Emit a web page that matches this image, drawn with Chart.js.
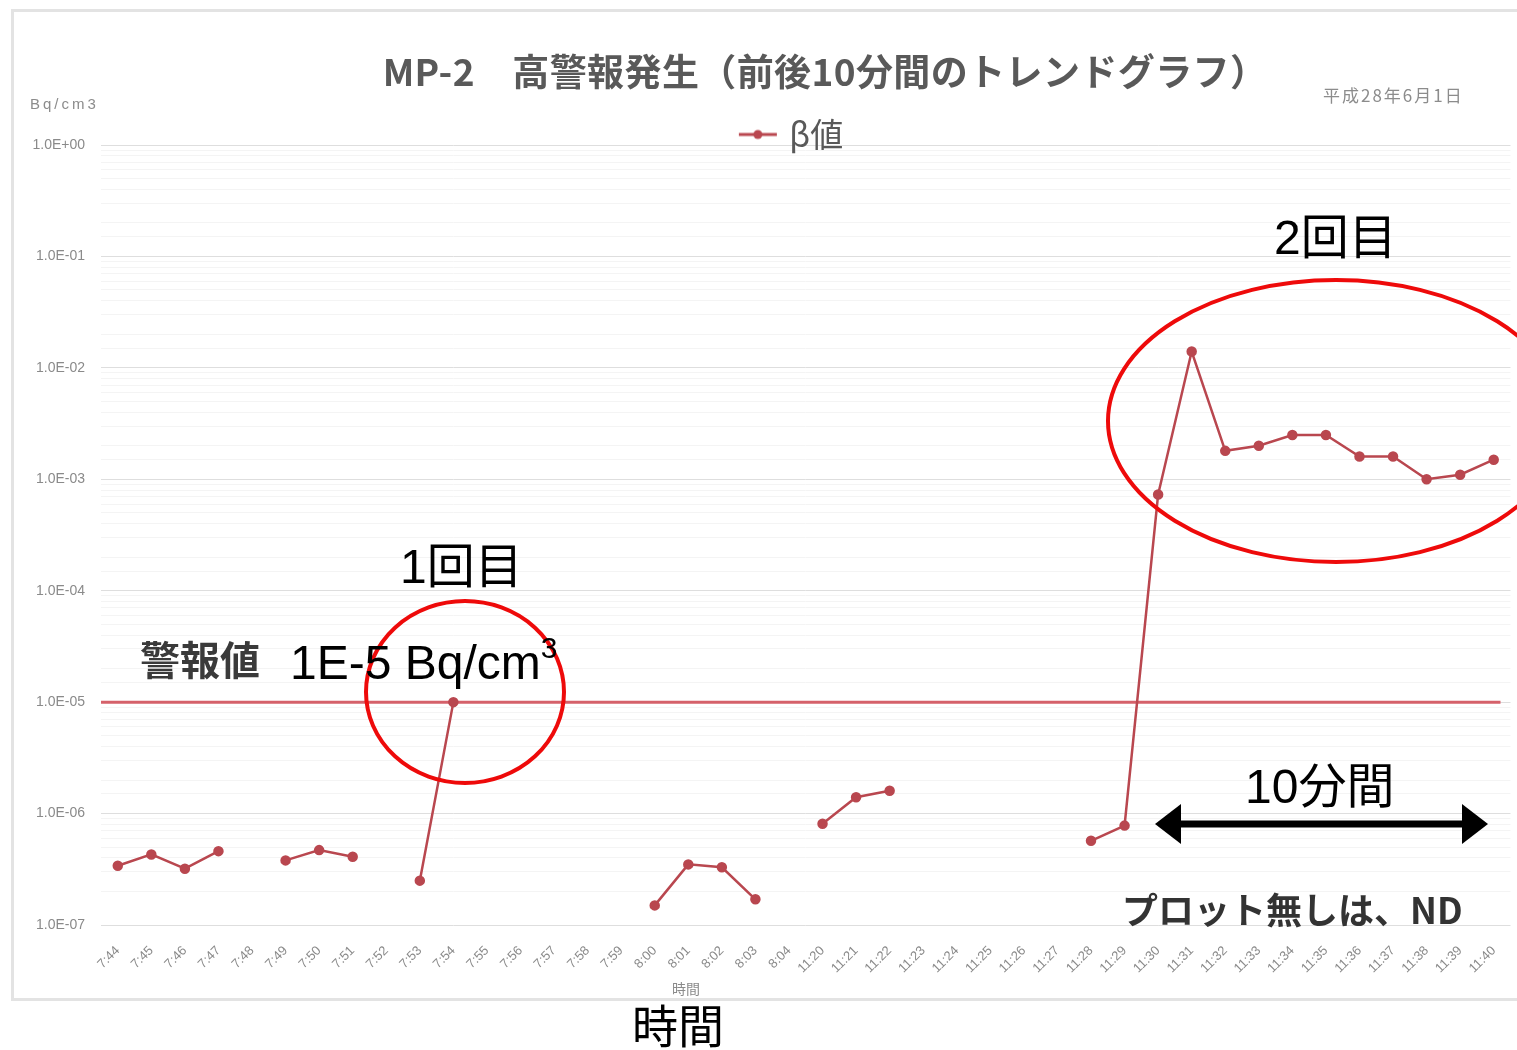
<!DOCTYPE html>
<html lang="ja">
<head>
<meta charset="utf-8">
<title>MP-2 高警報発生</title>
<script src="https://cdn.jsdelivr.net/npm/chart.js@4.4.1/dist/chart.umd.min.js"></script>
<style>
  html, body { margin: 0; padding: 0; background: #fff; }
  #wrap { position: relative; width: 1517px; height: 1050px; overflow: hidden; }
  #frame { position: absolute; left: 11px; top: 9px; width: 1530px; height: 992px; border: 3px solid #e3e3e3; box-sizing: border-box; }
  #grafico { position: absolute; left: 0; top: 0; }
  .note { position: absolute; white-space: nowrap; line-height: 1; font-family: "Liberation Sans", "Noto Sans CJK JP", sans-serif; }
  .cjk { font-family: "Noto Sans CJK JP", sans-serif; }
</style>
</head>
<body>
<div id="wrap">
  <div id="frame"></div>
  <canvas id="grafico" width="1517" height="1050"></canvas>

  <div class="note cjk" style="left:825px; top:52px; font-size:37px; font-weight:bold; letter-spacing:0.4px; color:#595959; transform:translateX(-50%);">MP-2　高警報発生（前後10分間のトレンドグラフ）</div>
  <div class="note cjk" style="left:1323px; top:86px; font-size:17px; letter-spacing:2px; color:#8c8c8c;">平成28年6月1日</div>
  <div class="note" style="left:30px; top:96px; font-size:15px; letter-spacing:3px; color:#8c8c8c;">Bq/cm3</div>
  <div class="note cjk" style="left:672px; top:981px; font-size:14px; color:#8a8a8a;">時間</div>

  <div class="note" style="left:1274px; top:214px; font-size:48px; color:#000;">2回目</div>
  <div class="note" style="left:400px; top:543px; font-size:48px; color:#000;">1回目</div>
  <div class="note cjk" style="left:140px; top:638px; font-size:40px; font-weight:bold; color:#3a3a3a;">警報値</div>
  <div class="note" style="left:290px; top:639px; font-size:48px; color:#000;">1E-5 Bq/cm<sup style="font-size:30px; vertical-align:top; position:relative; top:-6px;">3</sup></div>
  <div class="note" style="left:1245px; top:763px; font-size:48px; color:#000;">10分間</div>
  <div class="note cjk" style="left:1122px; top:890px; font-size:36px; font-weight:bold; color:#333;">プロット無しは、ND</div>
  <div class="note" style="left:632px; top:1004px; font-size:46px; color:#000;">時間</div>
</div>

<script>
// horários (eixo x)
const labels = [
  '7:44', '7:45', '7:46', '7:47', '7:48', '7:49', '7:50', '7:51',
  '7:52', '7:53', '7:54', '7:55', '7:56', '7:57', '7:58', '7:59',
  '8:00', '8:01', '8:02', '8:03', '8:04',
  '11:20', '11:21', '11:22', '11:23', '11:24', '11:25', '11:26',
  '11:27', '11:28', '11:29', '11:30', '11:31', '11:32', '11:33',
  '11:34', '11:35', '11:36', '11:37', '11:38', '11:39', '11:40'
];

// β値 (Bq/cm3) - null = ND, sem ponto
const betaValues = [
  3.4e-7, 4.3e-7, 3.2e-7, 4.6e-7, null, 3.8e-7, 4.7e-7, 4.1e-7,
  null, 2.5e-7, 1.0e-5, null, null, null, null, null,
  1.5e-7, 3.5e-7, 3.3e-7, 1.7e-7, null,
  8.1e-7, 1.4e-6, 1.6e-6, null, null, null, null,
  null, 5.7e-7, 7.8e-7, 7.3e-4, 1.4e-2, 1.8e-3, 2.0e-3,
  2.5e-3, 2.5e-3, 1.6e-3, 1.6e-3, 1.0e-3, 1.1e-3, 1.5e-3
];

// 警報値
const alarmLevel = 1e-5;

const yMin = 1e-7;
const yMax = 1;

const lineColor = '#b9474f';

function isDecade(v) {
  const e = Math.log10(v);
  return Math.abs(e - Math.round(e)) < 1e-6;
}

function logLabel(v) {
  if (!isDecade(v)) return '';
  const e = Math.round(Math.log10(v));
  return '1.0E' + (e < 0 ? '-' : '+') + String(Math.abs(e)).padStart(2, '0');
}

// marcador da legenda: linha com ponto no meio
const legendMark = document.createElement('canvas');
legendMark.width = 40;
legendMark.height = 14;
const lm = legendMark.getContext('2d');
lm.strokeStyle = lineColor;
lm.lineWidth = 3;
lm.beginPath();
lm.moveTo(1, 7);
lm.lineTo(39, 7);
lm.stroke();
lm.fillStyle = lineColor;
lm.beginPath();
lm.arc(20, 7, 4.5, 0, Math.PI * 2);
lm.fill();

const extras = {
  id: 'extras',
  afterLayout(chart) {
    // legenda mais perto da área do gráfico e centrada como no original
    chart.legend.top += 16;
    chart.legend.bottom += 16;
    chart.legend.left += 28;
    chart.legend.right += 28;
  },
  beforeDatasetsDraw(chart) {
    const {ctx, chartArea, scales} = chart;
    const y = scales.y.getPixelForValue(alarmLevel);
    ctx.save();
    ctx.strokeStyle = '#d5616a';
    ctx.lineWidth = 3;
    ctx.beginPath();
    ctx.moveTo(chartArea.left, y);
    ctx.lineTo(chartArea.right - 10, y);
    ctx.stroke();
    ctx.restore();
  },
  afterDraw(chart) {
    const ctx = chart.ctx;
    ctx.save();
    // círculos vermelhos
    ctx.strokeStyle = '#ee0a0a';
    ctx.lineWidth = 4;
    ctx.beginPath();
    ctx.ellipse(465, 692, 99, 91, 0, 0, Math.PI * 2);
    ctx.stroke();
    ctx.beginPath();
    ctx.ellipse(1336, 421, 228, 141, 0, 0, Math.PI * 2);
    ctx.stroke();
    // seta 10分間
    ctx.strokeStyle = '#000';
    ctx.fillStyle = '#000';
    ctx.lineWidth = 7;
    ctx.beginPath();
    ctx.moveTo(1175, 824);
    ctx.lineTo(1468, 824);
    ctx.stroke();
    ctx.beginPath();
    ctx.moveTo(1155, 824);
    ctx.lineTo(1181, 804);
    ctx.lineTo(1181, 844);
    ctx.closePath();
    ctx.fill();
    ctx.beginPath();
    ctx.moveTo(1488, 824);
    ctx.lineTo(1462, 804);
    ctx.lineTo(1462, 844);
    ctx.closePath();
    ctx.fill();
    ctx.restore();
  }
};

var grafico = document.querySelector('#grafico').getContext('2d');

new Chart(grafico, {
  type: 'line',
  data: {
    labels: labels,
    datasets: [
      {
        label: 'β値',
        data: betaValues,
        borderColor: lineColor,
        backgroundColor: lineColor,
        borderWidth: 2.5,
        pointRadius: 4,
        pointBackgroundColor: lineColor,
        pointBorderColor: lineColor,
        tension: 0,
        spanGaps: false
      }
    ]
  },
  plugins: [extras],
  options: {
    responsive: false,
    animation: false,
    devicePixelRatio: 1,
    layout: {
      padding: { left: 13, right: 0, top: 102, bottom: 49 }
    },
    plugins: {
      legend: {
        display: true,
        position: 'top',
        labels: {
          usePointStyle: true,
          pointStyle: legendMark,
          pointStyleWidth: 30,
          padding: 0,
          color: '#595959',
          font: { family: '"Noto Sans CJK JP", sans-serif', size: 33 }
        }
      },
      tooltip: { enabled: false }
    },
    scales: {
      x: {
        type: 'category',
        offset: true,
        afterFit: (s) => { s.height = 76; },
        grid: { display: false },
        border: { display: false },
        ticks: {
          autoSkip: false,
          minRotation: 45,
          maxRotation: 45,
          padding: 10,
          color: '#8a8a8a',
          font: { family: '"Liberation Sans", sans-serif', size: 13 }
        }
      },
      y: {
        type: 'logarithmic',
        min: yMin,
        max: yMax,
        afterFit: (s) => { s.width = 88; },
        border: { display: false },
        grid: {
          drawTicks: false,
          color: (c) => (c.tick && isDecade(c.tick.value)) ? '#dedede' : '#f4f4f4',
          lineWidth: 1
        },
        ticks: {
          autoSkip: false,
          padding: 16,
          color: '#8a8a8a',
          font: { family: '"Liberation Sans", sans-serif', size: 14 },
          callback: (v) => logLabel(v)
        }
      }
    }
  }
});
</script>
</body>
</html>
